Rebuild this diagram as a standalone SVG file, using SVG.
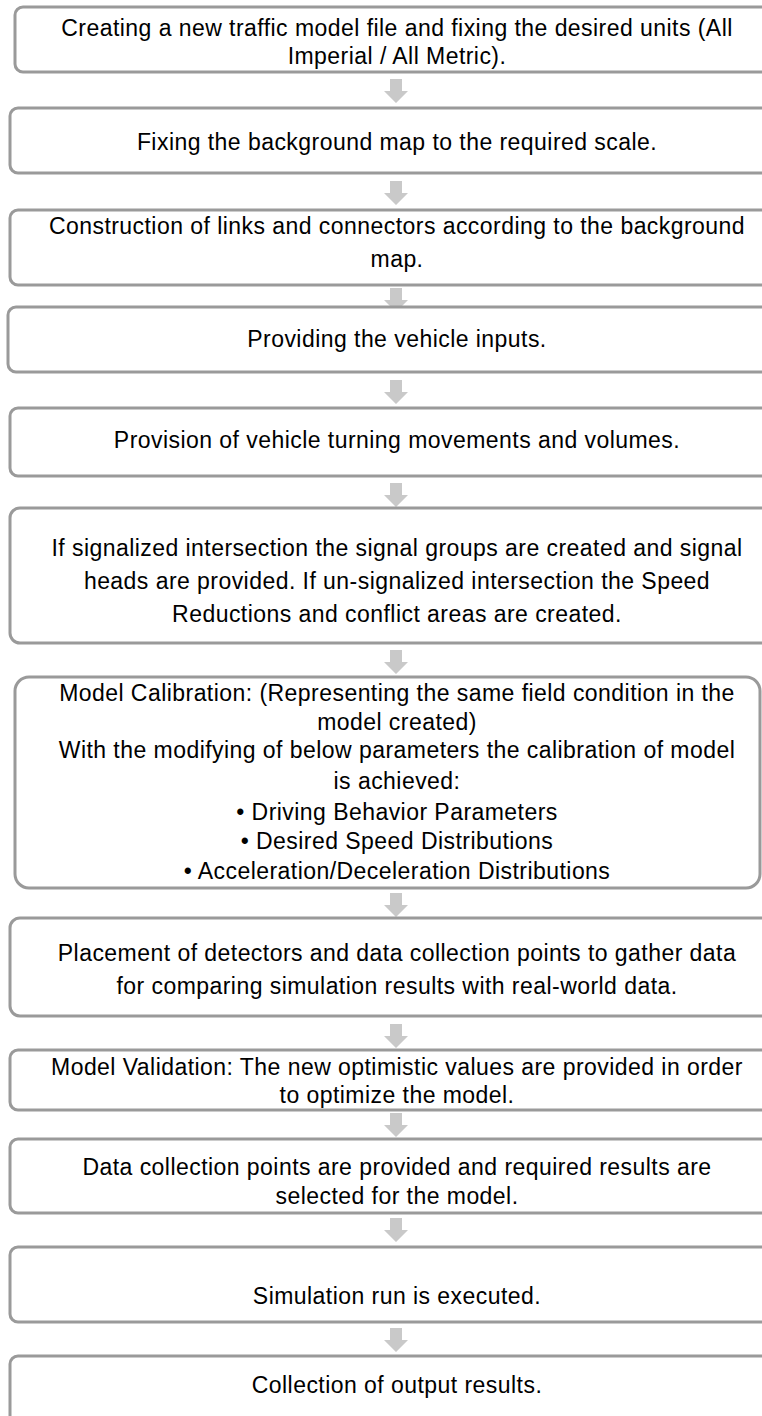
<svg xmlns="http://www.w3.org/2000/svg" width="762" height="1416" viewBox="0 0 762 1416">
<defs>
<style>
.box{fill:#ffffff;stroke:#9a9a9a;stroke-width:3}
.t{font-family:"Liberation Sans",Arial,sans-serif;font-size:23px;letter-spacing:0.45px;fill:#000;text-anchor:middle}
.arr{fill:#c9c9c9}
</style>
<path id="arrow" d="M-6,0 H6 V12 H12 L0,24 L-12,12 H-6 Z"/>
</defs>
<rect width="762" height="1416" fill="#ffffff"/>
<g id="connectors" class="arr">
<use href="#arrow" x="396" y="79"/>
<use href="#arrow" x="396" y="181"/>
<use href="#arrow" x="396" y="288"/>
<use href="#arrow" x="396" y="380"/>
<use href="#arrow" x="396" y="483"/>
<use href="#arrow" x="396" y="650"/>
<use href="#arrow" x="396" y="893"/>
<use href="#arrow" x="396" y="1024"/>
<use href="#arrow" x="396" y="1113"/>
<use href="#arrow" x="396" y="1218"/>
<use href="#arrow" x="396" y="1328"/>
</g>
<g id="n1"><rect class="box" x="15" y="7" width="765" height="65" rx="8"/>
<text class="t" x="397" y="36">Creating a new traffic model file and fixing the desired units (All</text>
<text class="t" x="397" y="64">Imperial / All Metric).</text></g>
<g id="n2"><rect class="box" x="10" y="108" width="770" height="65" rx="8"/>
<text class="t" x="397" y="150">Fixing the background map to the required scale.</text></g>
<g id="n3"><rect class="box" x="10" y="210" width="770" height="75" rx="8"/>
<text class="t" x="397" y="234">Construction of links and connectors according to the background</text>
<text class="t" x="397" y="267">map.</text></g>
<g id="n4"><rect class="box" x="8" y="307" width="772" height="65" rx="8"/>
<text class="t" x="397" y="347">Providing the vehicle inputs.</text></g>
<g id="n5"><rect class="box" x="10" y="408" width="770" height="68" rx="8"/>
<text class="t" x="397" y="448">Provision of vehicle turning movements and volumes.</text></g>
<g id="n6"><rect class="box" x="10" y="508" width="770" height="135" rx="10"/>
<text class="t" x="397" y="556">If signalized intersection the signal groups are created and signal</text>
<text class="t" x="397" y="589">heads are provided. If un-signalized intersection the Speed</text>
<text class="t" x="397" y="622">Reductions and conflict areas are created.</text></g>
<g id="n7"><rect class="box" x="15" y="677" width="745" height="211" rx="14"/>
<text class="t" x="397" y="701">Model Calibration: (Representing the same field condition in the</text>
<text class="t" x="397" y="730">model created)</text>
<text class="t" x="397" y="758">With the modifying of below parameters the calibration of model</text>
<text class="t" x="397" y="789">is achieved:</text>
<text class="t" x="397" y="820">• Driving Behavior Parameters</text>
<text class="t" x="397" y="849">• Desired Speed Distributions</text>
<text class="t" x="397" y="879">• Acceleration/Deceleration Distributions</text></g>
<g id="n8"><rect class="box" x="10" y="918" width="770" height="98" rx="10"/>
<text class="t" x="397" y="961">Placement of detectors and data collection points to gather data</text>
<text class="t" x="397" y="994">for comparing simulation results with real-world data.</text></g>
<g id="n9"><rect class="box" x="10" y="1050" width="770" height="60" rx="8"/>
<text class="t" x="397" y="1075">Model Validation: The new optimistic values are provided in order</text>
<text class="t" x="397" y="1103">to optimize the model.</text></g>
<g id="n10"><rect class="box" x="10" y="1139" width="770" height="74" rx="8"/>
<text class="t" x="397" y="1175">Data collection points are provided and required results are</text>
<text class="t" x="397" y="1204">selected for the model.</text></g>
<g id="n11"><rect class="box" x="10" y="1247" width="770" height="75" rx="8"/>
<text class="t" x="397" y="1304">Simulation run is executed.</text></g>
<g id="n12"><rect class="box" x="10" y="1356" width="770" height="80" rx="8"/>
<text class="t" x="397" y="1393">Collection of output results.</text></g>
</svg>
